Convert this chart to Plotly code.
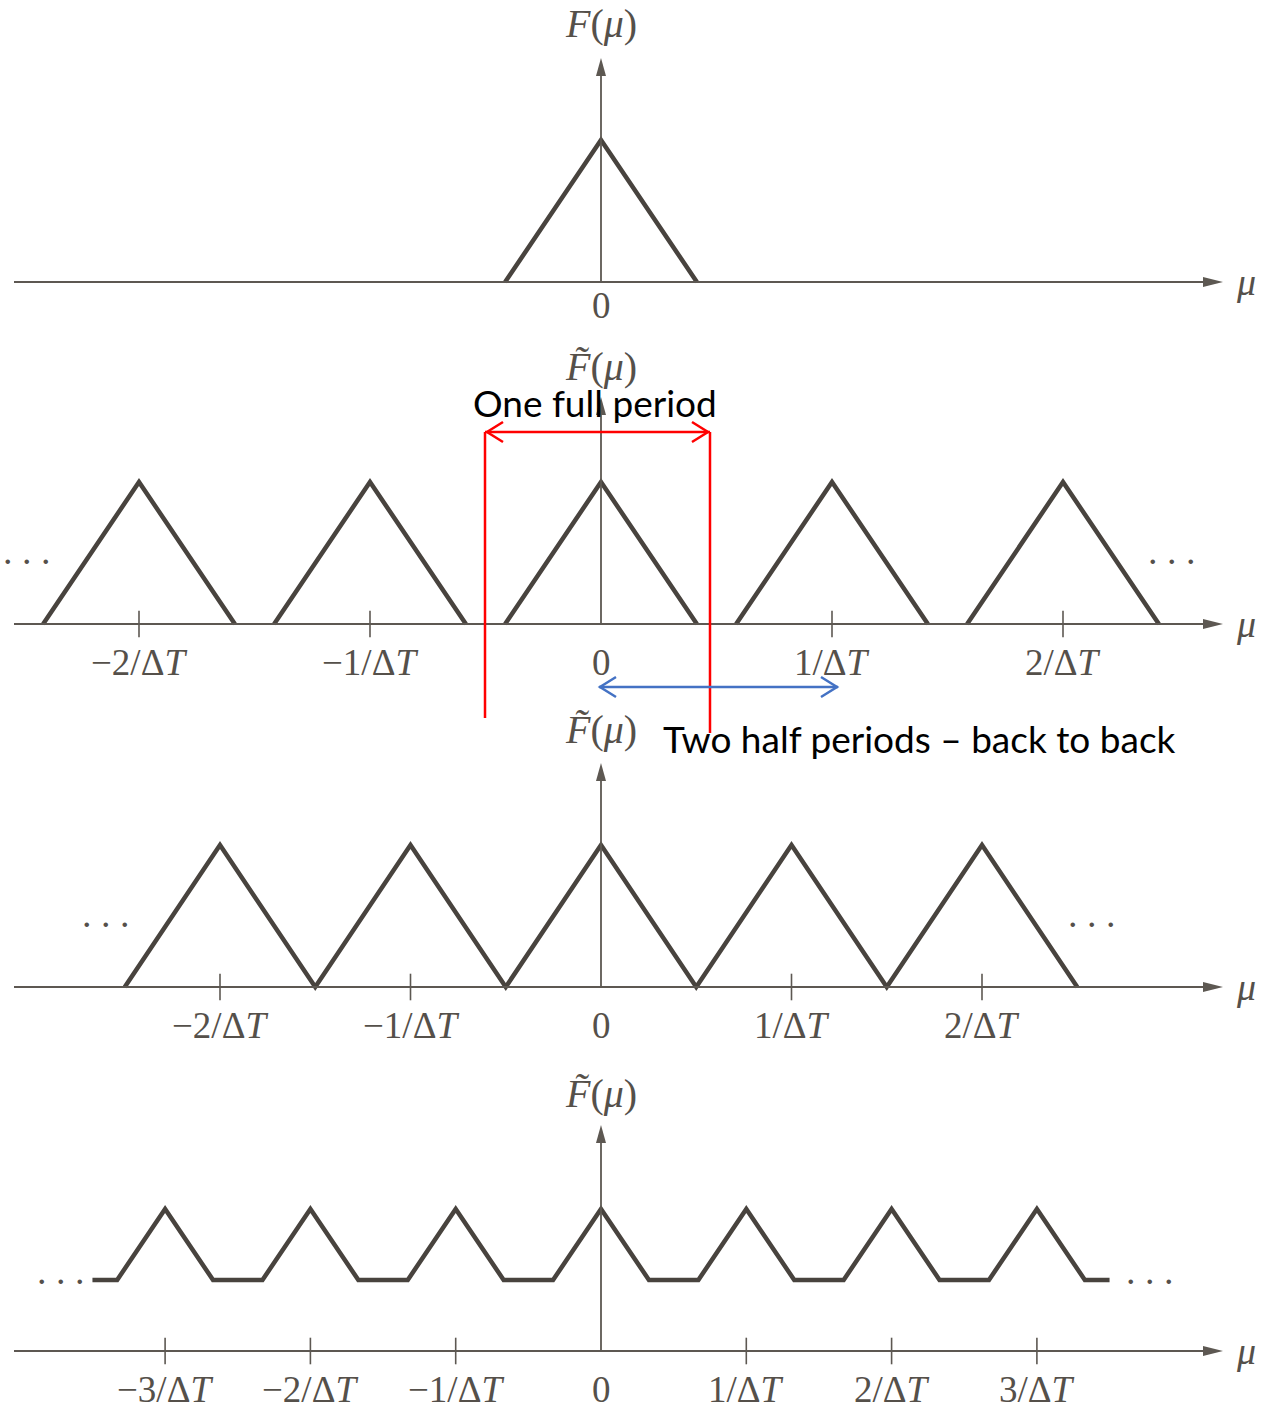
import plotly.graph_objects as go

# ---------------------------------------------------------------------------
# Spectra (μ in multiples of 1/ΔT, amplitude normalised to the peak of F(μ))
# ---------------------------------------------------------------------------
# band-limited transform of the continuous function
mu_band = [-0.415, 0.0, 0.415]
F_band = [0.0, 1.0, 0.0]

# over-sampled: copies separated by gaps
mu_over = [-2.415, -2.0, -1.585, None, -1.415, -1.0, -0.585, None,
           -0.415, 0.0, 0.415, None, 0.585, 1.0, 1.415, None, 1.585, 2.0, 2.415]
F_over = [0, 1, 0, None, 0, 1, 0, None, 0, 1, 0, None, 0, 1, 0, None, 0, 1, 0]

# critically sampled: copies just touching
mu_crit = [-2.5, -2.0, -1.5, -1.0, -0.5, 0.0, 0.5, 1.0, 1.5, 2.0, 2.5]
F_crit = [0, 1, 0, 1, 0, 1, 0, 1, 0, 1, 0]

# under-sampled: overlapping copies add up
mu_under = [-3.5, -3.33, -3.0, -2.67, -2.33, -2.0, -1.67, -1.33, -1.0, -0.67, -0.33,
            0.0, 0.33, 0.67, 1.0, 1.33, 1.67, 2.0, 2.33, 2.67, 3.0, 3.33, 3.5]
F_under = [0.5, 0.5, 1.0, 0.5, 0.5, 1.0, 0.5, 0.5, 1.0, 0.5, 0.5,
           1.0, 0.5, 0.5, 1.0, 0.5, 0.5, 1.0, 0.5, 0.5, 1.0, 0.5, 0.5]

ticks_over = [-2, -1, 1, 2]
labels_over = ["−2/Δ<i>T</i>", "−1/Δ<i>T</i>", "1/Δ<i>T</i>", "2/Δ<i>T</i>"]
ticks_under = [-3, -2, -1, 1, 2, 3]
labels_under = ["−3/Δ<i>T</i>", "−2/Δ<i>T</i>", "−1/Δ<i>T</i>",
                "1/Δ<i>T</i>", "2/Δ<i>T</i>", "3/Δ<i>T</i>"]

axis_titles = ["<i>F</i>(<i>μ</i>)", "<i>F̃</i>(<i>μ</i>)",
               "<i>F̃</i>(<i>μ</i>)", "<i>F̃</i>(<i>μ</i>)"]

# ---------------------------------------------------------------------------
# Page geometry (pixels)
# ---------------------------------------------------------------------------
W, H = 1263, 1411
X0 = 601                       # pixel column of μ = 0
BASE = [282, 624, 987, 1351]   # pixel row of each μ-axis
UNIT = [231, 231, 190.5, 145.3]  # pixels per 1/ΔT in each panel
YUNIT = 142                    # pixels per unit of F
TIP = [58, 397, 763, 1125]     # top of each vertical arrow

LINE = "#48433e"
AXC = "#5d5852"
TXT = "#55504a"
SERIF = "Liberation Serif"


def path(points, close=False):
    s = "M " + " L ".join(f"{x / W:.5f},{1 - y / H:.5f}" for x, y in points)
    return s + (" Z" if close else "")


def label(x, y, text, size, family=SERIF, color=TXT, xref="paper"):
    return dict(x=x, y=1 - y / H, xref=xref, yref="paper", text=text,
                showarrow=False, xanchor="center", yanchor="middle",
                font=dict(family=family, size=size, color=color))


fig = go.Figure()

series = [(mu_band, F_band), (mu_over, F_over), (mu_crit, F_crit), (mu_under, F_under)]
tick_sets = [([], []), (ticks_over, labels_over), (ticks_over, labels_over),
             (ticks_under, labels_under)]

shapes = []
annotations = []

for i, ((mu, F), (tk, tl)) in enumerate(zip(series, tick_sets)):
    n = "" if i == 0 else str(i + 1)
    xa, ya = "x" + n, "y" + n
    u, b = UNIT[i], BASE[i]

    fig.add_trace(go.Scatter(x=mu, y=F, mode="lines", xaxis=xa, yaxis=ya,
                             line=dict(color=LINE, width=4.5), hoverinfo="skip",
                             showlegend=False, connectgaps=False))
    if tk:
        fig.add_trace(go.Scatter(x=tk, y=[0] * len(tk), mode="markers", xaxis=xa, yaxis=ya,
                                 marker=dict(symbol="line-ns-open", size=19, color=AXC,
                                             line=dict(color=AXC, width=1.6)),
                                 hoverinfo="skip", showlegend=False))
        for t, lab in zip(tk, tl):
            annotations.append(label(t, b + 38, lab, 37, xref=xa))

    key = "xaxis" if i == 0 else f"xaxis{i + 1}"
    ykey = "yaxis" if i == 0 else f"yaxis{i + 1}"
    fig.update_layout({
        key: dict(domain=[0, 1], range=[-X0 / u, (W - X0) / u], visible=False,
                  fixedrange=True, anchor=ya),
        ykey: dict(domain=[0, 1], range=[-(H - b) / YUNIT, b / YUNIT], visible=False,
                   fixedrange=True, anchor=xa),
    })

    # horizontal μ axis with arrow
    shapes.append(dict(type="line", xref="paper", yref="paper",
                       x0=14 / W, x1=1208 / W, y0=1 - b / H, y1=1 - b / H,
                       line=dict(color=AXC, width=1.8)))
    shapes.append(dict(type="path", xref="paper", yref="paper",
                       path=path([(1223, b), (1203, b - 5), (1203, b + 5)], True),
                       fillcolor=AXC, line=dict(width=0)))
    # vertical axis with arrow
    shapes.append(dict(type="line", xref="paper", yref="paper",
                       x0=X0 / W, x1=X0 / W, y0=1 - b / H, y1=1 - (TIP[i] + 12) / H,
                       line=dict(color=AXC, width=1.8)))
    shapes.append(dict(type="path", xref="paper", yref="paper",
                       path=path([(X0, TIP[i]), (X0 - 5, TIP[i] + 18), (X0 + 5, TIP[i] + 18)], True),
                       fillcolor=AXC, line=dict(width=0)))

    # axis titles and origin label
    annotations.append(label(X0 / W, b - 258, axis_titles[i], 40))
    annotations.append(label(1246 / W, b, "<i>μ</i>", 38))
    zero_off = 23 if i == 0 else 38
    annotations.append(label(X0 / W, b + zero_off, "0", 37))

# ellipses marking continuation of the periodic spectra
dots = [(27, 561), (1172, 561), (106, 924), (1092, 924), (61, 1281), (1150, 1281)]
for x, y in dots:
    annotations.append(label(x / W, y - 10, ". . .", 38))

# one full period bracket (red)
RED = "#ff0000"
for seg in [[(485, 432), (485, 718)], [(710, 432), (710, 733)], [(485, 432), (710, 432)],
            [(503, 422), (487, 432), (503, 442)], [(692, 422), (708, 432), (692, 442)]]:
    shapes.append(dict(type="path", xref="paper", yref="paper", path=path(seg),
                       line=dict(color=RED, width=2.5)))

# two half periods arrow (blue)
BLUE = "#4472c4"
for seg in [[(599, 687), (838, 687)], [(616, 677), (600, 687), (616, 697)],
            [(821, 677), (837, 687), (821, 697)]]:
    shapes.append(dict(type="path", xref="paper", yref="paper", path=path(seg),
                       line=dict(color=BLUE, width=2.5)))

annotations.append(label(595 / W, 403, "One full period", 37, family="Lato", color="#000000"))
annotations.append(label(919 / W, 739, "Two half periods – back to back", 37,
                         family="Lato", color="#000000"))

fig.update_layout(width=W, height=H, margin=dict(l=0, r=0, t=0, b=0),
                  paper_bgcolor="white", plot_bgcolor="rgba(0,0,0,0)",
                  showlegend=False, shapes=shapes, annotations=annotations)

fig.write_html("out.html", config={"displayModeBar": False})
